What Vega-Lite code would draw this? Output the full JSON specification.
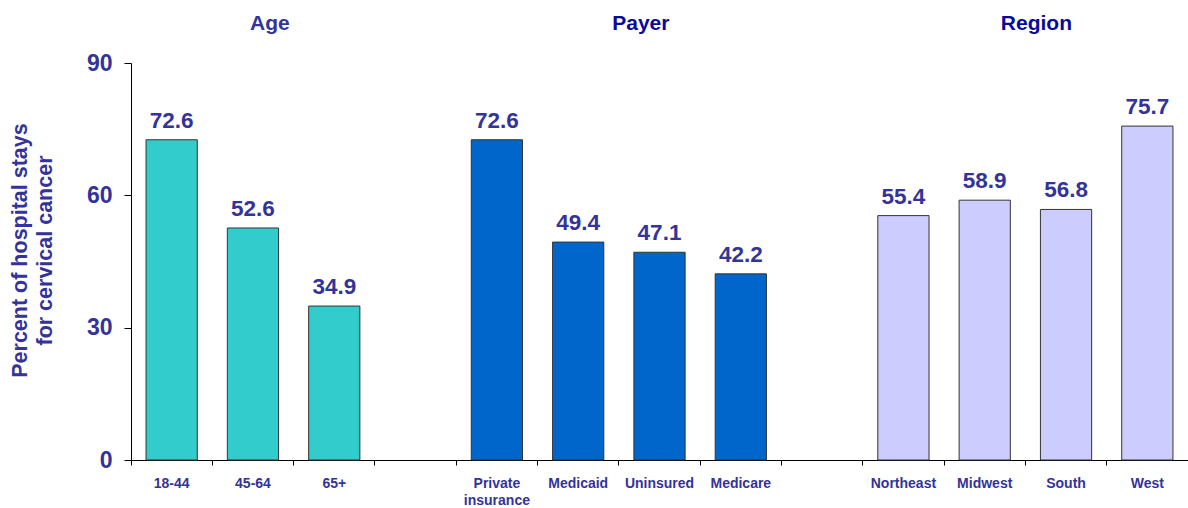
{
  "$schema": "https://vega.github.io/schema/vega-lite/v6.json",
  "width": 1057,
  "height": 397,
  "autosize": "none",
  "padding": {"left": 131, "top": 63, "right": 0, "bottom": 48},
  "background": "white",
  "config": {
    "view": {"stroke": null},
    "font": "Liberation Sans"
  },
  "datasets": {
    "bars": [
      {"cat": "18-44", "group": "Age", "value": 72.6},
      {"cat": "45-64", "group": "Age", "value": 52.6},
      {"cat": "65+", "group": "Age", "value": 34.9},
      {"cat": "Private insurance", "group": "Payer", "value": 72.6},
      {"cat": "Medicaid", "group": "Payer", "value": 49.4},
      {"cat": "Uninsured", "group": "Payer", "value": 47.1},
      {"cat": "Medicare", "group": "Payer", "value": 42.2},
      {"cat": "Northeast", "group": "Region", "value": 55.4},
      {"cat": "Midwest", "group": "Region", "value": 58.9},
      {"cat": "South", "group": "Region", "value": 56.8},
      {"cat": "West", "group": "Region", "value": 75.7}
    ]
  },
  "encoding": {
    "x": {
      "field": "cat", "type": "nominal", "sort": null,
      "scale": {"domain": ["18-44","45-64","65+","gap1","Private insurance","Medicaid","Uninsured","Medicare","gap2","Northeast","Midwest","South","West"], "paddingInner": 0, "paddingOuter": 0},
      "axis": {
        "title": null,
        "bandPosition": 0,
        "labelAngle": 0,
        "labelExpr": "indexof(datum.label,'gap')==0 ? '' : (datum.label=='Private insurance' ? ['Private','insurance'] : datum.label)",
        "labelFont": "Liberation Sans",
        "labelFontSize": 14,
        "labelFontWeight": "bold",
        "labelColor": "#333399",
        "labelLineHeight": 17,
        "labelPadding": 11,
        "tickSize": 5,
        "tickColor": "#000000",
        "domainColor": "#000000",
        "labelOverlap": false,
        "grid": false
      }
    }
  },
  "layer": [
    {
      "data": {"name": "bars"},
      "mark": {"type": "bar", "width": {"band": 0.63}, "stroke": "#333333", "strokeWidth": 1},
      "encoding": {
        "y": {
          "field": "value", "type": "quantitative",
          "scale": {"domain": [0, 90]},
          "axis": {
            "values": [0, 30, 60, 90],
            "title": ["Percent of hospital stays", "for cervical cancer"],
            "titleFont": "Liberation Sans",
            "titleFontSize": 21.5,
            "titleFontWeight": "bold",
            "titleColor": "#333399",
            "titleLineHeight": 25,
            "titlePadding": 30,
            "titleY": 187,
            "labelFont": "Liberation Sans",
            "labelFontSize": 23,
            "labelFontWeight": "bold",
            "labelColor": "#333399",
            "labelPadding": 12,
            "tickSize": 7,
            "tickColor": "#000000",
            "domainColor": "#000000",
            "grid": false
          }
        },
        "color": {
          "field": "group", "type": "nominal",
          "scale": {"domain": ["Age", "Payer", "Region"], "range": ["#33CCCC", "#0066CC", "#CCCCFF"]},
          "legend": null
        }
      }
    },
    {
      "data": {"name": "bars"},
      "mark": {"type": "text", "baseline": "bottom", "dy": -7, "font": "Liberation Sans", "fontSize": 22.5, "fontWeight": "bold", "color": "#333399"},
      "encoding": {
        "y": {"field": "value", "type": "quantitative"},
        "text": {"field": "value", "type": "quantitative", "format": ".1f"}
      }
    },
    {
      "data": {"values": [{"cat": "45-64", "header": "Age", "pos": 97.5}]},
      "mark": {"type": "text", "baseline": "alphabetic", "dx": 17, "font": "Liberation Sans", "fontSize": 21, "fontWeight": "bold", "color": "#333399"},
      "encoding": {
        "y": {"field": "pos", "type": "quantitative"},
        "text": {"field": "header"}
      }
    },
    {
      "data": {"values": [{"cat": "Uninsured", "header": "Payer", "pos": 97.5}]},
      "mark": {"type": "text", "baseline": "alphabetic", "dx": 22, "font": "Liberation Sans", "fontSize": 21, "fontWeight": "bold", "color": "#0A0A99"},
      "encoding": {
        "x": {"field": "cat", "type": "nominal", "sort": null, "bandPosition": 0},
        "y": {"field": "pos", "type": "quantitative"},
        "text": {"field": "header"}
      }
    },
    {
      "data": {"values": [{"cat": "South", "header": "Region", "pos": 97.5}]},
      "mark": {"type": "text", "baseline": "alphabetic", "dx": 11, "font": "Liberation Sans", "fontSize": 21, "fontWeight": "bold", "color": "#0A0A99"},
      "encoding": {
        "x": {"field": "cat", "type": "nominal", "sort": null, "bandPosition": 0},
        "y": {"field": "pos", "type": "quantitative"},
        "text": {"field": "header"}
      }
    }
  ]
}
